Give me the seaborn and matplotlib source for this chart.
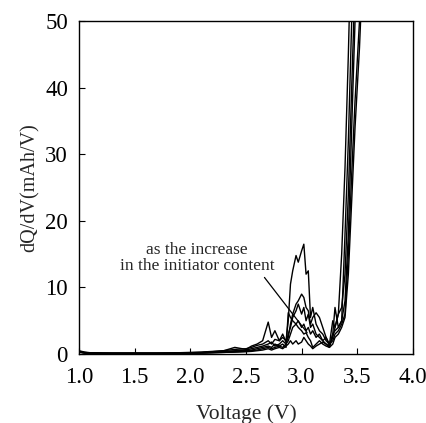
import numpy as np
import pandas as pd
import matplotlib
matplotlib.use("Agg")
import matplotlib.pyplot as plt
import seaborn as sns

# Differential capacity curves for six initiator contents
voltage = [1.0, 1.05, 1.1, 1.3, 1.5, 1.7, 1.9, 2.0, 2.1, 2.2, 2.3, 2.4, 2.5,
           2.55, 2.6, 2.65, 2.7, 2.73, 2.76, 2.8, 2.83, 2.86, 2.88, 2.9, 2.92,
           2.95, 2.97, 3.0, 3.02, 3.04, 3.06, 3.08, 3.1, 3.13, 3.16, 3.19,
           3.22, 3.25, 3.28, 3.3, 3.33, 3.36, 3.39, 3.42, 3.45, 3.48, 3.52, 3.56]

dqdv_1 = [0.5, 0.3, 0.2, 0.15, 0.15, 0.15, 0.2, 0.25, 0.3, 0.4, 0.5, 0.7, 0.8,
          1.0, 1.3, 1.5, 2.0, 1.5, 2.2, 2.0, 2.5, 2.0, 5.0, 10.5, 12.5,
          14.8, 13.8, 15.5, 16.5, 12.0, 12.5, 5.5, 7.0, 4.5, 3.5, 3.0,
          2.0, 1.5, 5.0, 4.0, 6.0, 7.0, 12.0, 24.0, 40.0, 56.0, 80.0, 120.0]
dqdv_2 = [0.4, 0.25, 0.15, 0.12, 0.12, 0.12, 0.15, 0.2, 0.25, 0.35, 0.5, 1.0, 0.7,
          1.2, 1.5, 2.0, 4.8, 2.5, 3.5, 2.0, 3.0, 1.8, 2.5, 4.5, 6.0,
          7.5, 8.0, 9.0, 8.5, 7.0, 6.5, 4.5, 5.5, 6.2, 5.5, 4.0,
          2.5, 1.2, 3.0, 7.0, 4.0, 5.0, 18.0, 32.0, 50.0, 75.0, 110.0, 150.0]
dqdv_3 = [0.35, 0.2, 0.12, 0.1, 0.1, 0.1, 0.12, 0.15, 0.2, 0.3, 0.4, 0.5, 0.6,
          0.8, 1.0, 1.2, 1.5, 1.8, 1.2, 1.5, 2.0, 1.5, 3.0, 4.0, 5.5,
          6.5, 7.5, 6.0, 7.0, 5.0, 6.0, 4.0, 4.5, 3.0, 2.5, 2.0,
          1.5, 1.0, 3.0, 3.5, 4.0, 5.0, 8.0, 18.0, 34.0, 50.0, 80.0, 120.0]
dqdv_4 = [0.3, 0.2, 0.1, 0.1, 0.1, 0.1, 0.1, 0.15, 0.2, 0.25, 0.3, 0.4, 0.5,
          0.6, 0.8, 1.0, 1.2, 1.0, 1.5, 1.2, 1.0, 1.5, 2.0, 3.0, 4.0,
          4.5, 5.0, 4.0, 4.5, 3.5, 4.0, 3.0, 3.5, 2.5, 3.0, 2.0,
          2.5, 1.5, 2.0, 3.0, 3.5, 4.5, 6.0, 15.0, 27.0, 38.0, 50.0, 70.0]
dqdv_5 = [0.3, 0.15, 0.1, 0.08, 0.08, 0.08, 0.1, 0.12, 0.15, 0.2, 0.25, 0.3, 0.4,
          0.5, 0.6, 0.8, 1.0, 0.8, 1.0, 1.2, 1.5, 1.0, 6.2, 5.5, 5.0,
          4.5, 4.0, 3.5, 3.0, 3.2, 2.5, 2.0, 1.0, 1.5, 2.0, 1.5,
          1.2, 1.0, 1.5, 2.5, 3.0, 4.0, 5.5, 12.0, 23.0, 34.0, 46.0, 62.0]
dqdv_6 = [0.3, 0.15, 0.1, 0.08, 0.08, 0.08, 0.1, 0.12, 0.15, 0.2, 0.25, 0.3, 0.35,
          0.4, 0.5, 0.6, 0.8, 0.6, 0.8, 1.0, 0.8, 1.2, 1.5, 2.0, 1.5,
          2.0, 1.5, 1.8, 2.5, 2.0, 1.5, 1.2, 0.8, 1.2, 1.5, 1.8,
          1.5, 1.2, 2.5, 4.0, 6.0, 15.0, 28.0, 45.0, 65.0, 90.0, 130.0, 180.0]

curves = {"1": dqdv_1, "2": dqdv_2, "3": dqdv_3,
          "4": dqdv_4, "5": dqdv_5, "6": dqdv_6}
df = pd.concat([pd.DataFrame({"voltage": voltage, "dqdv": vals, "sample": key})
                for key, vals in curves.items()], ignore_index=True)

sns.set_style("ticks")
plt.rcParams["font.family"] = ["Liberation Serif", "DejaVu Serif"]

fig = plt.figure(figsize=(4.27, 4.23), dpi=100)
ax = fig.add_axes([0.185, 0.163, 0.782, 0.787])

sns.lineplot(data=df, x="voltage", y="dqdv", hue="sample",
             palette=["black"] * 6, linewidth=1.0, legend=False,
             sort=False, estimator=None, ax=ax)

ax.set_xlim(1.0, 4.0)
ax.set_ylim(0, 50)
ax.set_xticks(np.arange(1.0, 4.01, 0.5))
ax.set_xticklabels([f"{t:.1f}" for t in np.arange(1.0, 4.01, 0.5)])
ax.set_yticks(range(0, 51, 10))
ax.tick_params(direction="in", length=4, width=0.8, labelsize=16.5,
               colors="black")
ax.tick_params(axis="x", pad=9)
ax.tick_params(axis="y", pad=8)
for side in ["top", "right", "left", "bottom"]:
    ax.spines[side].set_visible(True)
    ax.spines[side].set_linewidth(1.0)
    ax.spines[side].set_color("black")

ax.set_xlabel("Voltage (V)", fontsize=15.5, labelpad=12)
ax.set_ylabel("dQ/dV(mAh/V)", fontsize=14.5, labelpad=4)

ax.annotate("as the increase\nin the initiator content",
            xy=(3.05, 3.2), xytext=(2.06, 12.0),
            ha="center", va="bottom", fontsize=12.5, linespacing=1.05,
            arrowprops=dict(arrowstyle="-", color="black", lw=0.9,
                            shrinkA=0, shrinkB=0,
                            relpos=(0.92, 0.0)))

fig.savefig("out.png", dpi=100)
